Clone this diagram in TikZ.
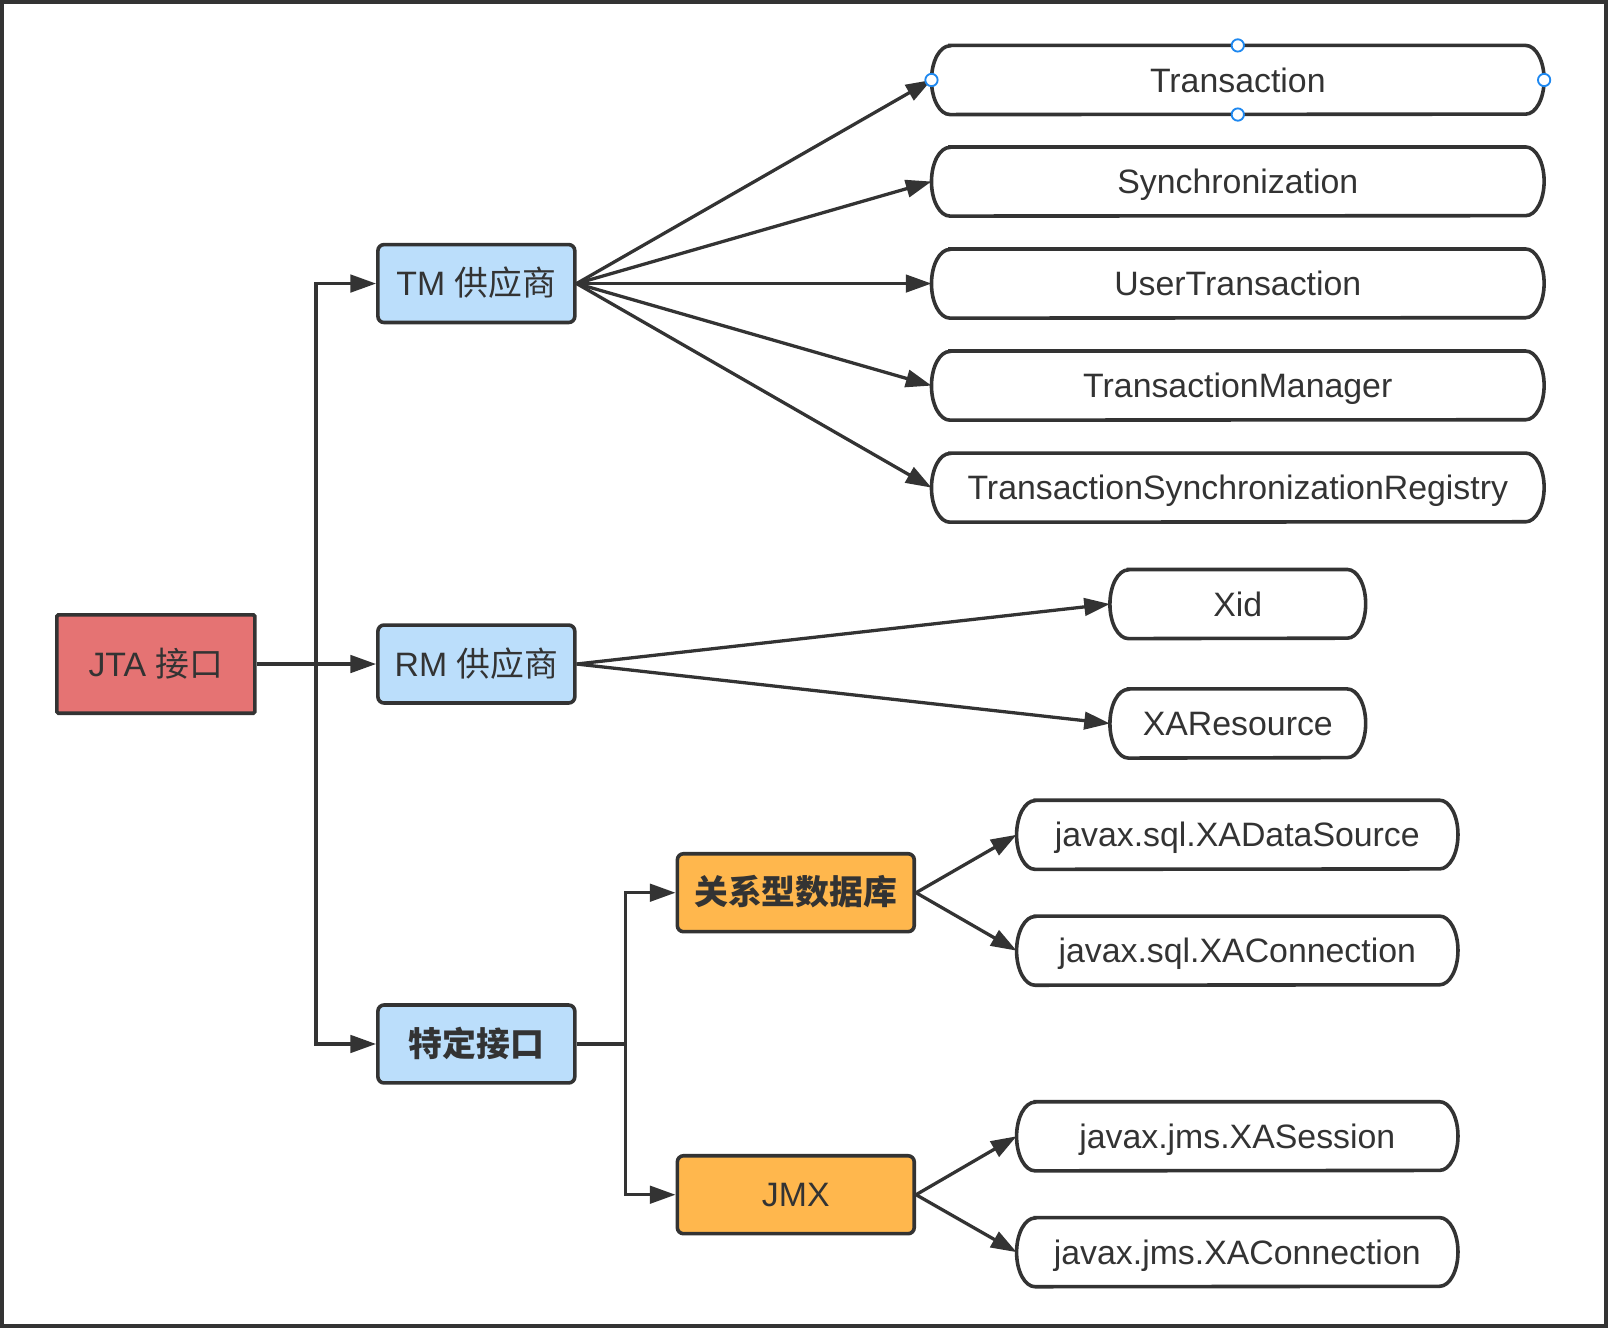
\documentclass[tikz,border=0pt]{standalone}
\usepackage{fontspec}
\setmainfont{Liberation Sans}
\newfontfamily\cjk{Noto Sans CJK SC}
\usetikzlibrary{arrows.meta}
\definecolor{ln}{HTML}{333333}
\definecolor{jtared}{HTML}{E57373}
\definecolor{lblue}{HTML}{BBDEFB}
\definecolor{orng}{HTML}{FFB74D}
\definecolor{hblue}{HTML}{1E88F0}
\newcommand\mkpill[5]{%
  \node[pillbox, minimum width=#4pt] (#1) at (#2,#3) {#5};
  \draw[pillline] ([xshift=18pt]#1.north west) -- ([xshift=-18pt]#1.north east)
    arc[start angle=90,end angle=-90,x radius=18pt,y radius=33.5pt]
    -- ([xshift=18pt]#1.south west)
    arc[start angle=270,end angle=90,x radius=18pt,y radius=33.5pt] -- cycle;
}
\begin{document}
\begin{tikzpicture}[x=1pt,y=-1pt,
  font=\fontsize{33}{40}\selectfont, text=ln,
  every node/.style={text height=23.6pt, text depth=0pt},
  arr/.style={draw=ln, line width=3.2pt, -{Triangle[length=25pt,width=17pt]}},
  plainline/.style={draw=ln, line width=3.2pt},
  box/.style={draw=ln, line width=3.5pt, minimum width=192pt, minimum height=76pt, inner sep=0pt, rounded corners=6pt},
  pillbox/.style={minimum height=67pt, inner sep=0pt},
  pillline/.style={draw=ln, line width=3.5pt},
  handle/.style={draw=hblue, fill=white, line width=1.8pt}]
\useasboundingbox (0,0) rectangle (1568,1295);
\draw[ln, line width=3.5pt] (1.75,1.75) rectangle (1566.25,1293.25);

% left column
\node[box, fill=jtared, rounded corners=1.5pt, minimum width=193pt, minimum height=96pt] (jta) at (152,647.5) {JTA {\cjk 接口}};
\node[box, fill=lblue] (tm) at (464.5,276.5) {TM {\cjk 供应商}};
\node[box, fill=lblue] (rm) at (464.5,647.5) {RM {\cjk 供应商}};
\node[box, fill=lblue] (sp) at (464.5,1018) {{\cjk\bfseries 特定接口}};

\node[box, fill=orng, minimum width=231pt] (db) at (776,870.5) {{\cjk\bfseries 关系型数据库}};
\node[box, fill=orng, minimum width=231pt] (jmx) at (776,1165) {JMX};

% pills
\mkpill{t1}{1207}{78}{597}{Transaction}
\mkpill{t2}{1207}{177}{597}{Synchronization}
\mkpill{t3}{1207}{276.5}{597}{UserTransaction}
\mkpill{t4}{1207}{376}{597}{TransactionManager}
\mkpill{t5}{1207}{475.5}{597}{TransactionSynchronizationRegistry}
\mkpill{x1}{1207}{589}{249}{Xid}
\mkpill{x2}{1207}{705.5}{249}{XAResource}
\mkpill{s1}{1206.5}{814}{430}{javax.sql.XADataSource}
\mkpill{s2}{1206.5}{927}{430}{javax.sql.XAConnection}
\mkpill{m1}{1206.5}{1108}{430}{javax.jms.XASession}
\mkpill{m2}{1206.5}{1221}{430}{javax.jms.XAConnection}

% connectors from JTA
\coordinate (jbus) at (308,647.5);
\draw[plainline] (jta.east) -- (jbus);
\draw[arr] (jbus) |- (tm.west);
\draw[arr] (jbus) -- (rm.west);
\draw[arr] (jbus) |- (sp.west);

% connectors from specific interface
\coordinate (sbus) at (610,1018);
\draw[plainline] (sp.east) -- (sbus);
\draw[arr] (sbus) |- (db.west);
\draw[arr] (sbus) |- (jmx.west);

% fan-outs
\foreach \t in {t1,t2,t3,t4,t5} \draw[arr] (tm.east) -- (\t.west);
\foreach \t in {x1,x2} \draw[arr] (rm.east) -- (\t.west);
\foreach \t in {s1,s2} \draw[arr] (db.east) -- (\t.west);
\foreach \t in {m1,m2} \draw[arr] (jmx.east) -- (\t.west);

% selection handles
\foreach \a in {west,east,north,south} \draw[handle] (t1.\a) circle[radius=6pt];
\end{tikzpicture}
\end{document}
